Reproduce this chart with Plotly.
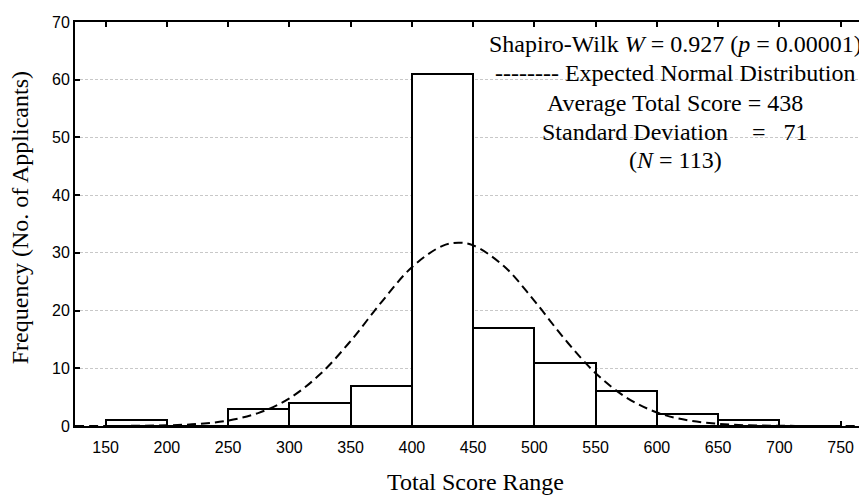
import plotly.graph_objects as go

# Histogram data
bin_left = [150, 200, 250, 300, 350, 400, 450, 500, 550, 600, 650, 700]
freq = [1, 0, 3, 4, 7, 61, 17, 11, 6, 2, 1, 0]
bin_width = 50

# Expected normal curve
curve_x = [125, 150, 175, 200, 225, 250, 275, 300, 325, 350, 375, 400, 425, 438,
           450, 475, 500, 525, 550, 575, 600, 625, 650, 675, 700, 725, 750, 771]
curve_y = [0.0, 0.01, 0.03, 0.12, 0.35, 0.95, 2.28, 4.8, 8.95, 14.73, 21.42, 27.52, 31.22, 31.75,
           31.3, 27.72, 21.68, 14.99, 9.15, 4.94, 2.35, 0.99, 0.37, 0.12, 0.04, 0.01, 0.0, 0.0]

x_ticks = [150, 200, 250, 300, 350, 400, 450, 500, 550, 600, 650, 700, 750]
y_ticks = [0, 10, 20, 30, 40, 50, 60, 70]

nb = "\u00a0"
info_lines = [
    "Shapiro-Wilk <i>W</i> = 0.927 (<i>p</i> = 0.00001)",
    "-------- Expected Normal Distribution",
    "Average Total Score = 438",
    f"Standard Deviation{nb*4}={nb*3}71",
    "(<i>N</i> = 113)",
]

centers = [b + bin_width / 2 for b in bin_left]

fig = go.Figure()
fig.add_trace(go.Bar(
    x=centers, y=freq, width=bin_width,
    marker=dict(color="white", line=dict(color="black", width=2)),
    showlegend=False, hoverinfo="x+y",
))
fig.add_trace(go.Scatter(
    x=curve_x, y=curve_y, mode="lines",
    line=dict(color="black", width=2, dash="9px,5px", shape="spline"),
    showlegend=False,
))

serif = "Liberation Serif, Times New Roman, serif"
sans = "Liberation Sans, Arial, sans-serif"

# plot area in window pixels: x 75..867, y 22..426.5
def px_x(px):
    return (px - 75) / 792.0

def px_y(py):
    return (426.5 - py) / 404.5

line_y = [44, 73, 103, 132, 160]
annotations = []
for txt, py in zip(info_lines, line_y):
    annotations.append(dict(
        xref="paper", yref="paper", x=px_x(675), y=px_y(py),
        xanchor="center", yanchor="middle", showarrow=False,
        font=dict(family=serif, size=24, color="black"), text=txt,
    ))
annotations.append(dict(
    xref="paper", yref="paper", x=px_x(476), y=px_y(483),
    xanchor="center", yanchor="middle", showarrow=False,
    font=dict(family=serif, size=24, color="black"), text="Total Score Range",
))
annotations.append(dict(
    xref="paper", yref="paper", x=px_x(20), y=px_y(218.5),
    xanchor="center", yanchor="middle", showarrow=False, textangle=-90,
    font=dict(family=serif, size=24, color="black"),
    text="Frequency (No. of Applicants)",
))

# page body has an 8px margin, so the figure is shifted by 8px
fig.update_layout(
    width=859, height=490,
    margin=dict(l=67, r=0, t=14, b=71.5),
    plot_bgcolor="white", paper_bgcolor="white",
    bargap=0,
    xaxis=dict(
        range=[125, 771.5], tickvals=x_ticks, ticks="inside", ticklen=5,
        tickwidth=1.5, tickcolor="black", ticklabelstandoff=6,
        showline=True, linecolor="black", linewidth=2, mirror="ticks",
        showgrid=False, zeroline=False,
        tickfont=dict(family=sans, size=16, color="black"),
    ),
    yaxis=dict(
        range=[0, 70], tickvals=y_ticks, ticks="inside", ticklen=5,
        tickwidth=1.5, tickcolor="black",
        showline=True, linecolor="black", linewidth=2, mirror=False,
        showgrid=True, gridcolor="#c8c8c8", gridwidth=1, griddash="3px,2px",
        zeroline=False,
        tickfont=dict(family=sans, size=16, color="black"),
    ),
    annotations=annotations,
)

fig.write_html("out.html")
